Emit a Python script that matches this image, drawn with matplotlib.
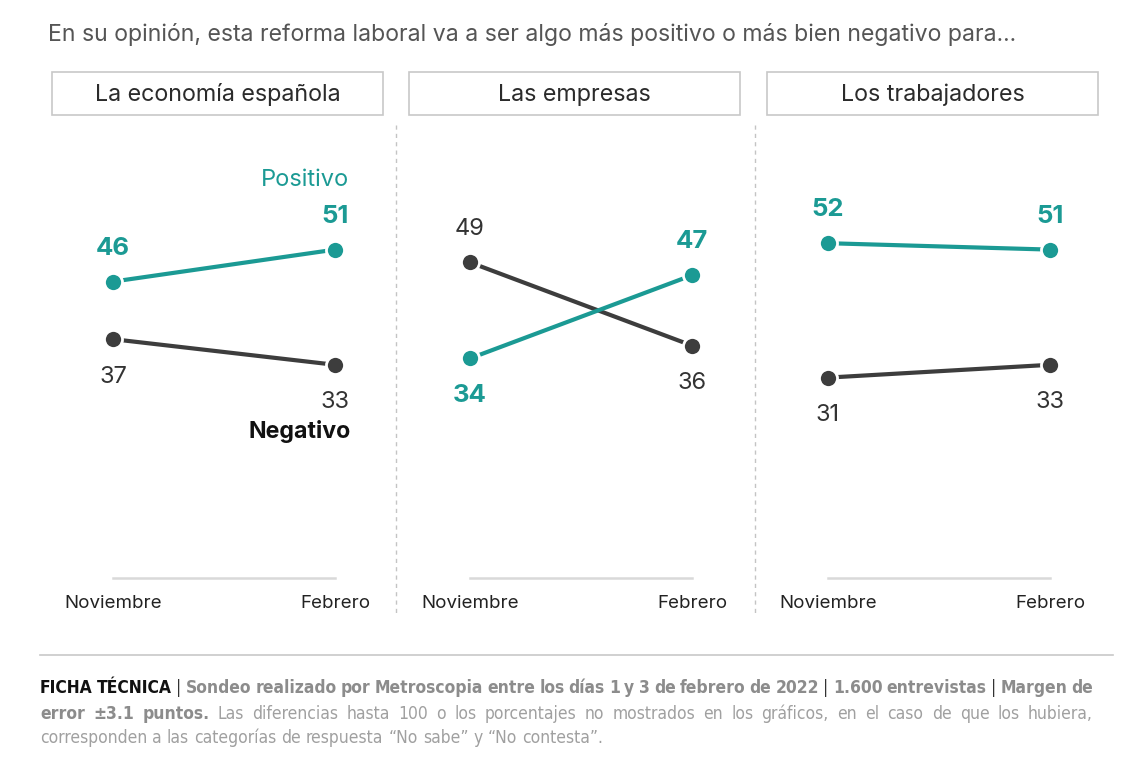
import matplotlib
matplotlib.use("Agg")
import matplotlib.pyplot as plt
from matplotlib.lines import Line2D
from matplotlib.patches import Rectangle

plt.rcParams['font.family'] = ['Inter', 'DejaVu Sans']

# Data
title = "En su opinión, esta reforma laboral va a ser algo más positivo o más bien negativo para..."
panels = ["La economía española", "Las empresas", "Los trabajadores"]
months = ["Noviembre", "Febrero"]
positivo = [[46, 51], [34, 47], [52, 51]]
negativo = [[37, 33], [49, 36], [31, 33]]

TEAL = "#1b9a94"
DARK = "#3d3d3d"
GREY_B = "#8c8c8c"
GREY_R = "#a0a0a0"
FOOT_FONT = 'DejaVu Sans'

W, H = 1136, 770
fig = plt.figure(figsize=(W / 100, H / 100), dpi=100)


def fx(px):
    return px / W


def fy(py):
    return 1 - py / H


# Question
fig.text(fx(48), fy(35), title, fontsize=16.6, color="#555555", va='center', ha='left')

box_left = [52, 409, 767]
box_w = 331
px_per_pt = 6.4
ax_top, ax_bottom = 125, 576

for i, name in enumerate(panels):
    x0 = box_left[i]
    # header box
    fig.add_artist(Rectangle((fx(x0), fy(115)), box_w / W, 43 / H, transform=fig.transFigure,
                             fill=False, edgecolor="#c8c8c8", lw=1.2))
    fig.text(fx(x0 + box_w / 2), fy(95), name, fontsize=16.8, color="#2b2b2b",
             ha='center', va='center')

    ax = fig.add_axes([fx(x0), fy(ax_bottom), box_w / W, (ax_bottom - ax_top) / H])
    ax.set_xlim(-0.275, 1.216)
    ax.set_ylim(0, (ax_bottom - ax_top) / px_per_pt)
    ax.axis('off')

    x = [0, 1]
    ax.plot([0, 1], [-0.3, -0.3], color="#d9d9d9", lw=1.8, zorder=1, clip_on=False)
    ax.plot(x, negativo[i], color=DARK, lw=3, marker='o', markersize=13,
            markeredgecolor='white', markeredgewidth=2, zorder=3)
    ax.plot(x, positivo[i], color=TEAL, lw=3, marker='o', markersize=13,
            markeredgecolor='white', markeredgewidth=2, zorder=4)

    for j in range(2):
        p, n = positivo[i][j], negativo[i][j]
        p_off = 24 if p >= n else -27
        n_off = 24 if n > p else -27
        ax.annotate(str(p), (j, p), xytext=(0, p_off), textcoords='offset points',
                    ha='center', va='center', fontsize=18.5, fontweight='bold', color=TEAL)
        ax.annotate(str(n), (j, n), xytext=(0, n_off), textcoords='offset points',
                    ha='center', va='center', fontsize=17, color="#333333")
        ax.annotate(months[j], (j, 0), xytext=(0, -19.5), textcoords='offset points',
                    ha='center', va='center', fontsize=13.5, color="#222222")

    if i == 0:
        ax.annotate("Positivo", (1, positivo[i][1]), xytext=(10, 50), textcoords='offset points',
                    ha='right', va='center', fontsize=17, color=TEAL)
        ax.annotate("Negativo", (1, negativo[i][1]), xytext=(11, -48), textcoords='offset points',
                    ha='right', va='center', fontsize=16.7, fontweight='bold', color="#111111")

# dotted separators
for sx in [396, 755]:
    fig.add_artist(Line2D([fx(sx), fx(sx)], [fy(125), fy(615)], transform=fig.transFigure,
                          color="#c4c4c4", lw=1, linestyle=(0, (3, 3))))

# footer rule
fig.add_artist(Line2D([fx(40), fx(1113)], [fy(655), fy(655)], transform=fig.transFigure,
                      color="#c8c8c8", lw=1.2))

footer = [
    ([("FICHA TÉCNICA", "#111111", "bold"), ("|", "#333333", "normal"),
      ("Sondeo realizado por Metroscopia entre los días 1 y 3 de febrero de 2022", GREY_B, "bold"),
      ("|", "#333333", "normal"), ("1.600 entrevistas", GREY_B, "bold"),
      ("|", "#333333", "normal"), ("Margen de", GREY_B, "bold")], 693, True),
    ([("error ±3.1 puntos.", GREY_B, "bold"),
      ("Las diferencias hasta 100 o los porcentajes no mostrados en los gráficos, en el caso de que los hubiera,",
       GREY_R, "normal")], 719, True),
    ([("corresponden a las categorías de respuesta “No sabe” y “No contesta”.", GREY_R, "normal")], 743, False),
]

renderer = fig.canvas.get_renderer()
FOOT_SIZE = 12.5
FOOT_STRETCH = 'condensed'
x_start, x_end = 40, 1093
probe_a = fig.text(0, 0, "aa", fontsize=FOOT_SIZE, family=FOOT_FONT, fontstretch=FOOT_STRETCH)
probe_b = fig.text(0, 0, "a a", fontsize=FOOT_SIZE, family=FOOT_FONT, fontstretch=FOOT_STRETCH)
space_w = probe_b.get_window_extent(renderer).width - probe_a.get_window_extent(renderer).width
probe_a.remove()
probe_b.remove()

for segments, y, justify in footer:
    words = []
    for txt, color, weight in segments:
        for w in txt.split():
            words.append(fig.text(0, fy(y), w, fontsize=FOOT_SIZE, color=color, fontweight=weight,
                                  family=FOOT_FONT, fontstretch=FOOT_STRETCH,
                                  va='baseline', ha='left'))
    widths = [t.get_window_extent(renderer).width for t in words]
    if justify:
        gap = (x_end - x_start - sum(widths)) / (len(words) - 1)
    else:
        gap = space_w
    xpos = x_start
    for t, w in zip(words, widths):
        t.set_x(fx(xpos))
        xpos += w + gap

fig.savefig("out.png", dpi=100)
